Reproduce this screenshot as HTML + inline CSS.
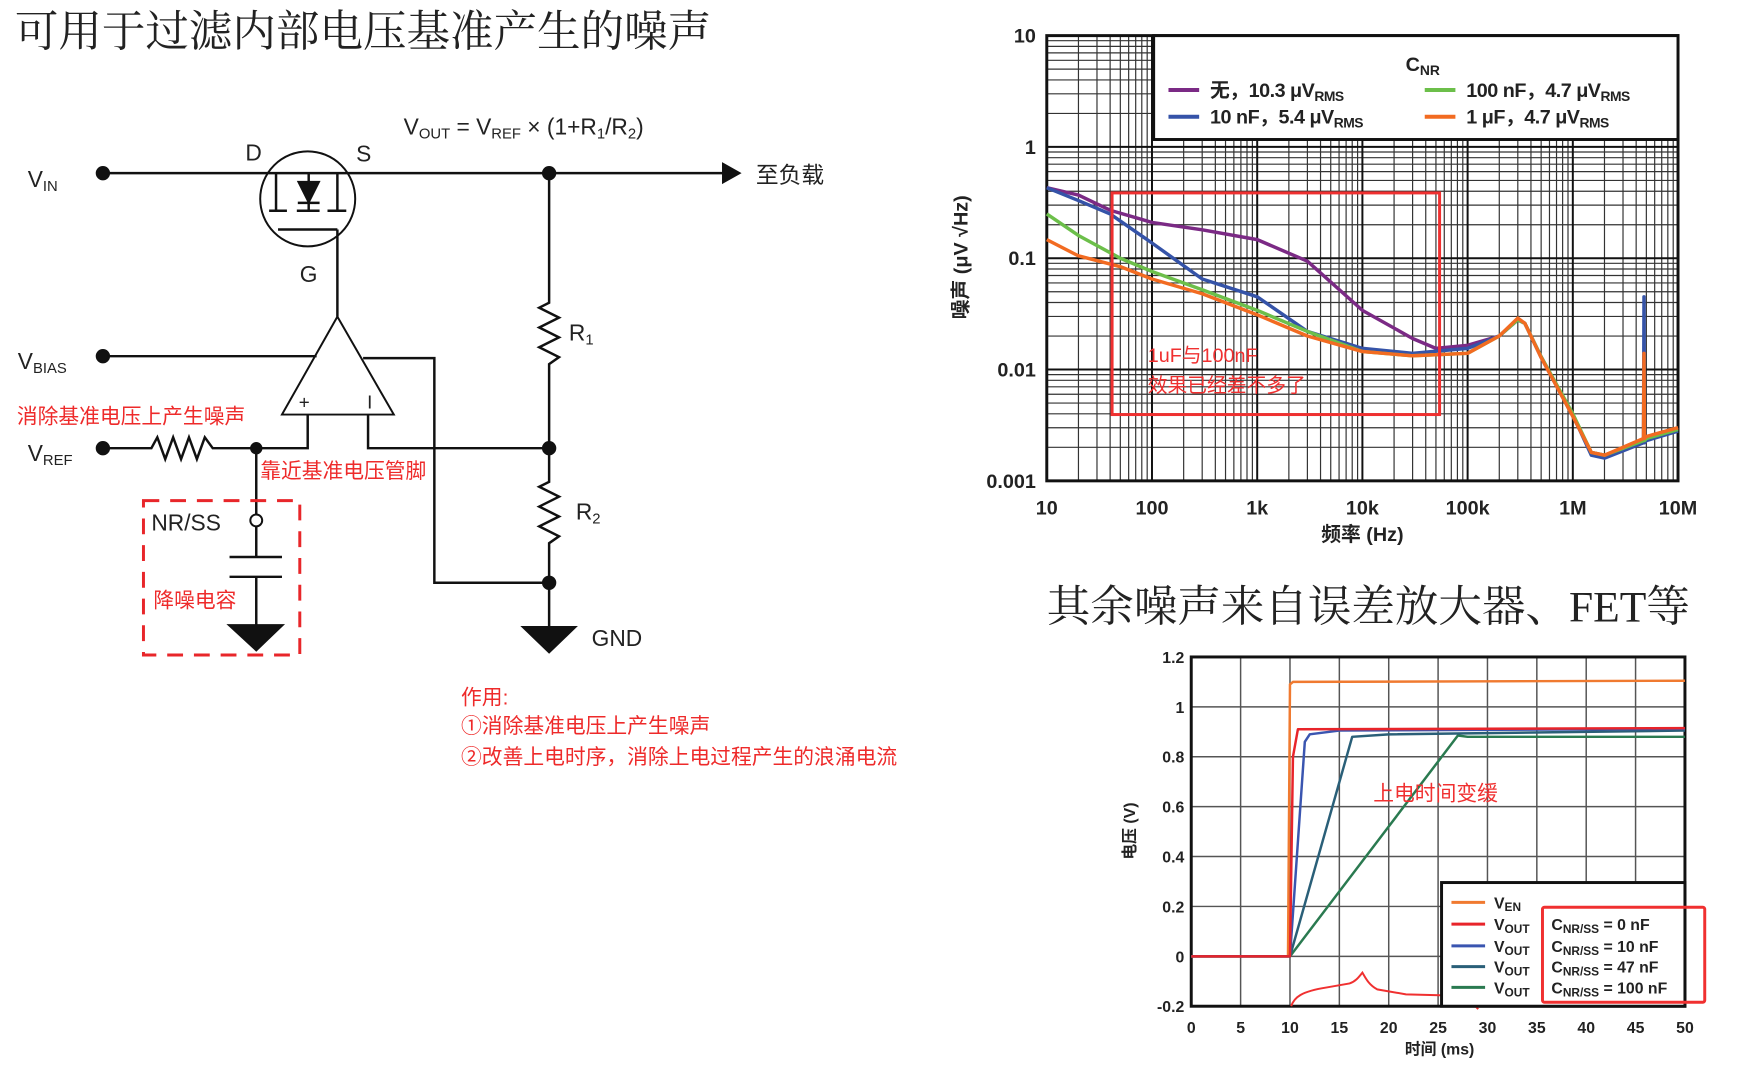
<!DOCTYPE html>
<html><head><meta charset="utf-8">
<style>
html,body{margin:0;padding:0;background:#fff;overflow:hidden;}
svg{display:block;}
.cj{font-family:"Liberation Sans","Noto Sans CJK SC",sans-serif;}
.sf{font-family:"Liberation Serif","Noto Serif CJK SC",serif;}
</style></head>
<body>
<svg id="root" width="1754" height="1066" viewBox="0 0 1754 1066" xmlns="http://www.w3.org/2000/svg">
<rect width="1754" height="1066" fill="#fff"/>
<g transform="scale(0.9894)">
<text class="sf" x="15" y="47" font-size="44" fill="#222">可用于过滤内部电压基准产生的噪声</text>
<text class="sf" x="1058" y="628" font-size="44" fill="#222">其余噪声来自误差放大器、FET等</text>

<!-- Circuit -->
<g stroke="#111" stroke-width="2.5" fill="none">
  <line x1="104" y1="175" x2="731" y2="175"/>
  <polygon points="731,166 747,175 731,184" fill="#111"/>
  <circle cx="311" cy="201" r="48" stroke-width="2"/>
  <line x1="279" y1="175" x2="279" y2="213"/>
  <line x1="312" y1="175" x2="312" y2="213"/>
  <line x1="341" y1="175" x2="341" y2="213"/>
  <line x1="272" y1="213" x2="290" y2="213"/>
  <line x1="300" y1="213" x2="323" y2="213"/>
  <line x1="331" y1="213" x2="350" y2="213"/>
  <polygon points="302,184 322,184 312,204" fill="#111"/>
  <line x1="301" y1="205" x2="323" y2="205"/>
  <line x1="281" y1="232" x2="341" y2="232"/>
  <line x1="341" y1="232" x2="341" y2="320"/>
  <polygon points="341,320 285,419 398,419" stroke-width="2"/>
  <line x1="104" y1="360" x2="320" y2="360"/>
  <polyline points="367,362 439,362 439,589 555,589"/>
  <polyline points="372,419 372,453 555,453"/>
  <polyline points="311,419 311,453 259,453"/>
  <polyline points="104,453 153,453 159,442 167,464 175,442 183,464 191,442 199,464 207,442 215,453 259,453"/>
  <polyline points="555,175 555,306 545,311 565,321 545,331 565,341 545,351 565,361 555,368 555,487 545,492 565,502 545,512 565,522 545,532 565,542 555,549 555,634"/>
  <line x1="259" y1="453" x2="259" y2="520"/>
  <circle cx="259" cy="526" r="6" fill="#fff" stroke-width="2"/>
  <line x1="259" y1="532" x2="259" y2="563"/>
  <line x1="232" y1="563" x2="285" y2="563"/>
  <line x1="232" y1="583" x2="285" y2="583"/>
  <line x1="259" y1="583" x2="259" y2="632"/>
  <polygon points="232,632 285,632 259,657" fill="#111"/>
  <polygon points="529,634 581,634 555,659" fill="#111"/>
  <circle cx="104" cy="175" r="6" fill="#111"/>
  <circle cx="104" cy="360" r="6" fill="#111"/>
  <circle cx="104" cy="453" r="6" fill="#111"/>
  <circle cx="555" cy="175" r="6" fill="#111"/>
  <circle cx="555" cy="453" r="6" fill="#111"/>
  <circle cx="555" cy="589" r="6" fill="#111"/>
  <circle cx="259" cy="453" r="5" fill="#111"/>
  <rect x="145" y="506" width="158" height="156" stroke="#e8262a" stroke-width="3" stroke-dasharray="16,11"/>
</g>
<g class="cj" font-size="23" fill="#222">
  <text x="28" y="189">V<tspan font-size="15" dy="4">IN</tspan></text>
  <text x="18" y="373">V<tspan font-size="15" dy="4">BIAS</tspan></text>
  <text x="28" y="466">V<tspan font-size="15" dy="4">REF</tspan></text>
  <text x="248" y="162">D</text>
  <text x="360" y="163">S</text>
  <text x="303" y="285">G</text>
  <text x="302" y="413" font-size="19">+</text>
  <text x="371" y="413" font-size="19">I</text>
  <text x="575" y="344">R<tspan font-size="15" dy="4">1</tspan></text>
  <text x="582" y="525">R<tspan font-size="15" dy="4">2</tspan></text>
  <text x="598" y="653">GND</text>
  <text x="153" y="536">NR/SS</text>
  <text x="408" y="136">V<tspan font-size="15" dy="4">OUT</tspan><tspan dy="-4"> = V</tspan><tspan font-size="15" dy="4">REF</tspan><tspan dy="-4"> × (1+R</tspan><tspan font-size="15" dy="4">1</tspan><tspan dy="-4">/R</tspan><tspan font-size="15" dy="4">2</tspan><tspan dy="-4">)</tspan></text>
  <text x="764" y="185">至负载</text>
</g>
<g class="cj" font-size="21" fill="#ee2a2a">
  <text x="17" y="428">消除基准电压上产生噪声</text>
  <text x="263" y="483">靠近基准电压管脚</text>
  <text x="155" y="614">降噪电容</text>
  <text x="466" y="712">作用:</text>
  <text x="466" y="741">①消除基准电压上产生噪声</text>
  <text x="466" y="772">②改善上电时序，消除上电过程产生的浪涌电流</text>
</g>

<g id="noise"></g>
<g id="step"></g>
</g>
</svg>
<script>
// ---- Noise chart data ----
const noiseXTicks = [10, 100, 1000, 10000, 100000, 1000000, 10000000];
const noiseXTickLabels = ["10", "100", "1k", "10k", "100k", "1M", "10M"];
const noiseYTicks = [10, 1, 0.1, 0.01, 0.001];
const noiseYTickLabels = ["10", "1", "0.1", "0.01", "0.001"];
const tailFreq = [200000, 300000, 350000, 500000, 1000000, 1500000, 2000000, 4700000, 4750000, 4800000, 5000000, 10000000];
const freqPurple = [10, 20, 40, 100, 300, 1000, 3000, 10000, 30000, 50000, 100000];
const valPurple = [0.43, 0.37, 0.27, 0.21, 0.18, 0.147, 0.094, 0.034, 0.019, 0.0155, 0.0165];
const freqBlue = [10, 20, 40, 100, 300, 1000, 3000, 10000, 30000, 100000];
const valBlue = [0.43, 0.33, 0.25, 0.137, 0.065, 0.045, 0.022, 0.0155, 0.014, 0.0155];
const freqGreen = [10, 20, 50, 100, 300, 1000, 3000, 10000, 30000, 100000];
const valGreen = [0.25, 0.16, 0.1, 0.076, 0.052, 0.034, 0.022, 0.0145, 0.0133, 0.014];
const freqOrange = [10, 20, 50, 100, 300, 1000, 3000, 10000, 30000, 100000];
const valOrange = [0.147, 0.105, 0.084, 0.065, 0.048, 0.031, 0.02, 0.0145, 0.0133, 0.014];
const tailPurple = [0.02, 0.028, 0.026, 0.0128, 0.0038, 0.0018, 0.0017, 0.0023, 0.0023, 0.0023, 0.0024, 0.003];
const tailBlue = [0.02, 0.028, 0.026, 0.013, 0.0039, 0.0017, 0.0016, 0.0022, 0.045, 0.0022, 0.0023, 0.0028];
const tailGreen = [0.02, 0.028, 0.026, 0.013, 0.0040, 0.0018, 0.0017, 0.0023, 0.0023, 0.0023, 0.0024, 0.0029];
const tailOrange = [0.02, 0.029, 0.026, 0.0128, 0.0038, 0.0018, 0.0017, 0.0024, 0.014, 0.0024, 0.0025, 0.003];

// ---- Startup chart data ----
const stepXTicks = [0, 5, 10, 15, 20, 25, 30, 35, 40, 45, 50];
const stepYTicks = [-0.2, 0, 0.2, 0.4, 0.6, 0.8, 1, 1.2];
const stepYTickLabels = ["-0.2", "0", "0.2", "0.4", "0.6", "0.8", "1", "1.2"];
const tEn = [0, 9.8, 10, 10.3, 50];
const vEn = [0, 0, 1.09, 1.1, 1.105];
const tOut0 = [0, 10, 10.3, 10.8, 50];
const vOut0 = [0, 0, 0.8, 0.91, 0.915];
const tOut10 = [0, 10, 11.5, 12, 15, 50];
const vOut10 = [0, 0, 0.86, 0.89, 0.905, 0.912];
const tOut47 = [0, 10, 16.3, 20, 50];
const vOut47 = [0, 0, 0.88, 0.89, 0.905];
const tOut100 = [0, 10, 27, 28, 50];
const vOut100 = [0, 0, 0.885, 0.88, 0.88];

const NS = "http://www.w3.org/2000/svg";
function mk(parent, tag, attrs, text) {
  const e = document.createElementNS(NS, tag);
  for (const k in attrs) e.setAttribute(k, attrs[k]);
  if (text !== undefined) e.textContent = text;
  parent.appendChild(e);
  return e;
}
const FONT = '"Liberation Sans","Noto Sans CJK SC",sans-serif';

// ===== Noise chart =====
(function () {
  const g = document.getElementById('noise');
  const L = 1058, R = 1696, T = 36, B = 486;
  const nx = f => L + (Math.log10(f) - 1) * (R - L) / 6;
  const ny = v => T + (1 - Math.log10(v)) * (B - T) / 4;
  for (let d = 1; d < 7; d++) for (let m = 2; m <= 9; m++) {
    const x = nx(m * Math.pow(10, d));
    const ln = mk(g, 'line', {x1: x, x2: x, y1: T, y2: B, stroke: '#333', 'stroke-width': 1.2});
    
    
  }
  for (let d = -3; d < 1; d++) for (let m = 2; m <= 9; m++) {
    const y = ny(m * Math.pow(10, d));
    const ln = mk(g, 'line', {x1: L, x2: R, y1: y, y2: y, stroke: '#333', 'stroke-width': 1.2});
    
    
  }
  noiseXTicks.forEach((f, i) => {
    const x = nx(f);
    const ln = mk(g, 'line', {x1: x, x2: x, y1: T, y2: B, stroke: '#111', 'stroke-width': 2});
    
    
    const t = mk(g, 'text', {x: x, y: 520, 'text-anchor': 'middle', 'font-size': 20, 'font-weight': 'bold', 'font-family': FONT, fill: '#222'}, noiseXTickLabels[i]);
    
    
  });
  noiseYTicks.forEach((v, i) => {
    const y = ny(v);
    const ln = mk(g, 'line', {x1: L, x2: R, y1: y, y2: y, stroke: '#111', 'stroke-width': 2});
    
    
    const t = mk(g, 'text', {x: 1047, y: y + 7, 'text-anchor': 'end', 'font-size': 20, 'font-weight': 'bold', 'font-family': FONT, fill: '#222'}, noiseYTickLabels[i]);
    
    
  });
  const fr = mk(g, 'rect', {x: L, y: T, width: R - L, height: B - T, fill: 'none', stroke: '#111', 'stroke-width': 3});
  
  
  const xt = mk(g, 'text', {x: 1377, y: 547, 'text-anchor': 'middle', 'font-size': 20, 'font-weight': 'bold', 'font-family': FONT, fill: '#222'}, '频率 (Hz)');
  
  
  const yt = mk(g, 'text', {x: 0, y: 0, 'text-anchor': 'middle', 'font-size': 20, 'font-weight': 'bold', 'font-family': FONT, fill: '#222', transform: 'translate(978,260) rotate(-90)'}, '噪声 (μV √Hz)');
  
  

  const series = [
    ['series-none', freqPurple, valPurple, tailPurple, '#7b2a85'],
    ['series-10nf', freqBlue, valBlue, tailBlue, '#3553a8'],
    ['series-100nf', freqGreen, valGreen, tailGreen, '#6cbf4a'],
    ['series-1uf', freqOrange, valOrange, tailOrange, '#f26b21']
  ];
  series.forEach(s => {
    const fs = s[1].concat(tailFreq), vs = s[2].concat(s[3]);
    const pts = fs.map((f, i) => nx(f).toFixed(1) + ',' + ny(vs[i]).toFixed(1)).join(' ');
    const p = mk(g, 'polyline', {points: pts, fill: 'none', stroke: s[4], 'stroke-width': 3.5, 'stroke-linejoin': 'round'});
    
    
  });

  const lb = mk(g, 'rect', {x: 1166, y: 36, width: 530, height: 105, fill: '#fff', stroke: '#111', 'stroke-width': 3});
  
  
  const lt = mk(g, 'text', {x: 1438, y: 72, 'text-anchor': 'middle', 'font-size': 20, 'font-weight': 'bold', 'font-family': FONT, fill: '#222'});
  
  
  lt.innerHTML = 'C<tspan font-size="14" dy="4">NR</tspan>';
  const entries = [
    [1181, 98, '#7b2a85', '无，10.3 μV', 'legend-entry-none'],
    [1440, 98, '#6cbf4a', '100 nF，4.7 μV', 'legend-entry-100nf'],
    [1181, 125, '#3553a8', '10 nF，5.4 μV', 'legend-entry-10nf'],
    [1440, 125, '#f26b21', '1 μF，4.7 μV', 'legend-entry-1uf']
  ];
  entries.forEach(e => {
    const ln = mk(g, 'line', {x1: e[0], x2: e[0] + 31, y1: e[1] - 7, y2: e[1] - 7, stroke: e[2], 'stroke-width': 4});
    
    
    const t = mk(g, 'text', {x: e[0] + 42, y: e[1], 'font-size': 20, 'font-weight': 'bold', 'font-family': FONT, fill: '#222', 'letter-spacing': '-0.5'});
    
    
    t.textContent = e[3];
    mk(t, 'tspan', {'font-size': 14, dy: 4}, 'RMS');
  });
  const rb = mk(g, 'rect', {x: 1124, y: 195, width: 331, height: 224, fill: 'none', stroke: '#f03030', 'stroke-width': 3});
  
  
  const a1 = mk(g, 'text', {x: 1160, y: 366, 'font-size': 20, 'font-family': FONT, fill: '#f03030'}, '1uF与100nF');
  
  
  const a2 = mk(g, 'text', {x: 1160, y: 396, 'font-size': 20, 'font-family': FONT, fill: '#f03030'}, '效果已经差不多了');
  
  
})();

// ===== Startup chart =====
(function () {
  const g = document.getElementById('step');
  const L = 1204, R = 1703, T = 664, B = 1017;
  const sx = t => L + t * (R - L) / 50;
  const sy = v => B - (v + 0.2) * (B - T) / 1.4;
  stepXTicks.forEach(t => {
    const x = sx(t);
    const ln = mk(g, 'line', {x1: x, x2: x, y1: T, y2: B, stroke: '#555', 'stroke-width': 1.5});
    
    
    const tx = mk(g, 'text', {x: x, y: 1044, 'text-anchor': 'middle', 'font-size': 16, 'font-weight': 'bold', 'font-family': FONT, fill: '#222'}, String(t));
    
    
  });
  stepYTicks.forEach((v, i) => {
    const y = sy(v);
    const ln = mk(g, 'line', {x1: L, x2: R, y1: y, y2: y, stroke: '#555', 'stroke-width': 1.5});
    
    
    const tx = mk(g, 'text', {x: 1197, y: y + 6, 'text-anchor': 'end', 'font-size': 16, 'font-weight': 'bold', 'font-family': FONT, fill: '#222'}, stepYTickLabels[i]);
    
    
  });
  const fr = mk(g, 'rect', {x: L, y: T, width: R - L, height: B - T, fill: 'none', stroke: '#111', 'stroke-width': 3});
  
  
  const xt = mk(g, 'text', {x: 1455, y: 1066, 'text-anchor': 'middle', 'font-size': 16, 'font-weight': 'bold', 'font-family': FONT, fill: '#222'}, '时间 (ms)');
  
  
  const yt = mk(g, 'text', {x: 0, y: 0, 'text-anchor': 'middle', 'font-size': 16, 'font-weight': 'bold', 'font-family': FONT, fill: '#222', transform: 'translate(1147,840) rotate(-90)'}, '电压 (V)');
  
  

  const ser = [
    ['series-ven', tEn, vEn, '#f07a30'],
    ['series-vout-100nf', tOut100, vOut100, '#2a7a50'],
    ['series-vout-47nf', tOut47, vOut47, '#2a5f78'],
    ['series-vout-10nf', tOut10, vOut10, '#3a55b0'],
    ['series-vout-0nf', tOut0, vOut0, '#e8242a']
  ];
  ser.forEach(s => {
    const pts = s[1].map((t, i) => sx(t).toFixed(1) + ',' + sy(s[2][i]).toFixed(1)).join(' ');
    const p = mk(g, 'polyline', {points: pts, fill: 'none', stroke: s[3], 'stroke-width': 2.5, 'stroke-linejoin': 'round'});
    
    
  });

  const sq = mk(g, 'path', {d: 'M1305,1017 C1308,1008 1315,1002 1341,998 L1364,994 C1370,992 1373,988 1377,983 C1380,988 1383,995 1392,1000 L1421,1005 L1460,1006 C1478,1008 1488,1012 1494,1020', fill: 'none', stroke: '#f03030', 'stroke-width': 2});
  
  

  const lb = mk(g, 'rect', {x: 1457, y: 892, width: 246, height: 125, fill: '#fff', stroke: '#111', 'stroke-width': 3});
  
  
  const leg = [
    [917, '#f07a30', 'EN', '', 'legend-entry-ven'],
    [939, '#e8242a', 'OUT', '0 nF', 'legend-entry-0nf'],
    [961, '#3a55b0', 'OUT', '10 nF', 'legend-entry-10nf'],
    [982, '#2a5f78', 'OUT', '47 nF', 'legend-entry-47nf'],
    [1003, '#2a7a50', 'OUT', '100 nF', 'legend-entry-100nf']
  ];
  leg.forEach(e => {
    const ln = mk(g, 'line', {x1: 1467, x2: 1501, y1: e[0] - 5, y2: e[0] - 5, stroke: e[1], 'stroke-width': 3});
    
    
    const t = mk(g, 'text', {x: 1510, y: e[0] + 1, 'font-size': 16, 'font-weight': 'bold', 'font-family': FONT, fill: '#222'}, 'V');
    
    
    mk(t, 'tspan', {'font-size': 12, dy: 3}, e[2]);
    if (e[3]) {
      const c = mk(g, 'text', {x: 1568, y: e[0] + 1, 'font-size': 16, 'font-weight': 'bold', 'font-family': FONT, fill: '#222'}, 'C');
      
      
      mk(c, 'tspan', {'font-size': 12, dy: 3}, 'NR/SS');
      mk(c, 'tspan', {dy: -3}, ' = ' + e[3]);
    }
  });
  const rb = mk(g, 'rect', {x: 1559, y: 917, width: 164, height: 96, fill: 'none', stroke: '#f03030', 'stroke-width': 3, rx: 2});
  
  
  const an = mk(g, 'text', {x: 1388, y: 809, 'font-size': 21, 'font-family': FONT, fill: '#f03030'}, '上电时间变缓');
  
  
})();
</script>
</body></html>
